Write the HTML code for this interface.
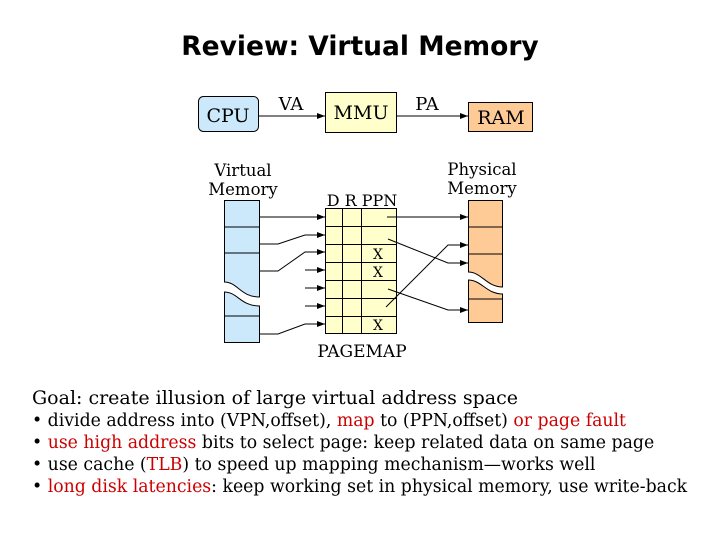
<!DOCTYPE html>
<html><head><style>
body{margin:0;width:720px;height:540px;background:#fff;overflow:hidden;font-family:"DejaVu Serif","Liberation Serif",serif;}
.t{position:absolute;white-space:nowrap;color:#000}
.r{color:#cc0000}
</style></head><body>
<div class="t" style="left:0;width:720px;text-align:center;top:31px;font:bold 26.5px 'DejaVu Sans','Liberation Sans',sans-serif;">Review: Virtual Memory</div>
<svg width="720" height="540" style="position:absolute;left:0;top:0" font-family="DejaVu Serif, Liberation Serif, serif">
<defs><marker id="a" markerWidth="8" markerHeight="6" refX="8" refY="3" orient="auto" markerUnits="userSpaceOnUse"><path d="M0,0L8,3L0,6z" fill="#000"/></marker></defs>
<rect x="198.5" y="96.5" width="60" height="35" rx="5" fill="#cce9fb" stroke="#000"/>
<text x="228" y="122" text-anchor="middle" font-size="19">CPU</text>
<rect x="325.5" y="92.5" width="71" height="40" fill="#ffffcc" stroke="#000"/>
<text x="361" y="119" text-anchor="middle" font-size="19">MMU</text>
<rect x="468.5" y="102.5" width="64" height="29" fill="#fecb97" stroke="#000"/>
<text x="501" y="124" text-anchor="middle" font-size="19">RAM</text>
<line x1="259" y1="116" x2="325" y2="116" stroke="#000" marker-end="url(#a)"/>
<line x1="397" y1="116" x2="468" y2="116" stroke="#000" marker-end="url(#a)"/>
<text x="291" y="110" text-anchor="middle" font-size="18">VA</text>
<text x="427" y="110" text-anchor="middle" font-size="18">PA</text>
<g font-size="16.5" text-anchor="middle"><text x="243" y="176">Virtual</text><text x="243" y="195">Memory</text>
<text x="482" y="175">Physical</text><text x="482" y="194">Memory</text>
<text x="362" y="357" font-size="17">PAGEMAP</text>
<text x="362" y="206" font-size="16">D R PPN</text></g>
<!-- virtual memory -->
<rect x="224.5" y="200.5" width="35" height="142" fill="#cce9fb" stroke="#000"/>
<path d="M224,282 C238,282 240,297 260,297 L260,306 C240,306 238,292 224,292 Z" fill="#fff"/>
<path d="M224,282 C238,282 240,297 260,297 M224,292 C238,292 240,306 260,306" fill="none" stroke="#000"/>
<g stroke="#000"><line x1="224" y1="227" x2="260" y2="227"/><line x1="224" y1="253" x2="260" y2="253"/><line x1="224" y1="316" x2="260" y2="316"/></g>
<!-- pagemap -->
<rect x="325.5" y="208.5" width="71" height="125" fill="#ffffcc" stroke="#000"/>
<g stroke="#000"><line x1="342.5" y1="208" x2="342.5" y2="333"/><line x1="361.5" y1="208" x2="361.5" y2="333"/>
<line x1="325" y1="226.5" x2="397" y2="226.5"/><line x1="325" y1="244.5" x2="397" y2="244.5"/><line x1="325" y1="262.5" x2="397" y2="262.5"/><line x1="325" y1="280.5" x2="397" y2="280.5"/><line x1="325" y1="298.5" x2="397" y2="298.5"/><line x1="325" y1="316.5" x2="397" y2="316.5"/></g>
<g font-size="14" text-anchor="middle"><text x="378" y="259">X</text><text x="378" y="277">X</text><text x="378" y="330">X</text></g>
<!-- physical -->
<rect x="468.5" y="200.5" width="34" height="122" fill="#fecb97" stroke="#000"/>
<path d="M468,272 C482,272 486,287 503,287 L503,294 C486,294 482,280 468,280 Z" fill="#fff"/>
<path d="M468,272 C482,272 486,287 503,287 M468,280 C482,280 486,294 503,294" fill="none" stroke="#000"/>
<g stroke="#000"><line x1="468" y1="227" x2="503" y2="227"/><line x1="468" y1="254" x2="503" y2="254"/><line x1="468" y1="299" x2="503" y2="299"/></g>
<!-- arrows -->
<g stroke="#000" fill="none">
<polyline points="260,217 325,217" marker-end="url(#a)"/>
<polyline points="260,244 278,244 305,235 325,235" marker-end="url(#a)"/>
<polyline points="260,271 278,271 305,252 325,252" marker-end="url(#a)"/>
<line x1="305" y1="270" x2="325" y2="270" marker-end="url(#a)"/>
<line x1="305" y1="288" x2="325" y2="288" marker-end="url(#a)"/>
<line x1="305" y1="306" x2="325" y2="306" marker-end="url(#a)"/>
<polyline points="260,334 278,334 305,324 325,324" marker-end="url(#a)"/>
<polyline points="387,217 468,217" marker-end="url(#a)"/>
<polyline points="388,239 448,263 468,263" marker-end="url(#a)"/>
<polyline points="388,289 448,310 468,310" marker-end="url(#a)"/>
<polyline points="386,307 448,245 468,245" marker-end="url(#a)"/>
</g>
</svg>
<div class="t" style="left:32px;top:387px;font-size:19px">Goal: create illusion of large virtual address space</div>
<div class="t" style="left:32px;top:411px;font-size:17.3px">• divide address into (VPN,offset), <span class="r">map</span> to (PPN,offset) <span class="r">or page fault</span></div>
<div class="t" style="left:32px;top:433px;font-size:17.3px">• <span class="r">use high address</span> bits to select page: keep related data on same page</div>
<div class="t" style="left:32px;top:455px;font-size:17.3px">• use cache (<span class="r">TLB</span>) to speed up mapping mechanism—works well</div>
<div class="t" style="left:32px;top:477px;font-size:17.3px">• <span class="r">long disk latencies</span>: keep working set in physical memory, use write-back</div>
</body></html>
